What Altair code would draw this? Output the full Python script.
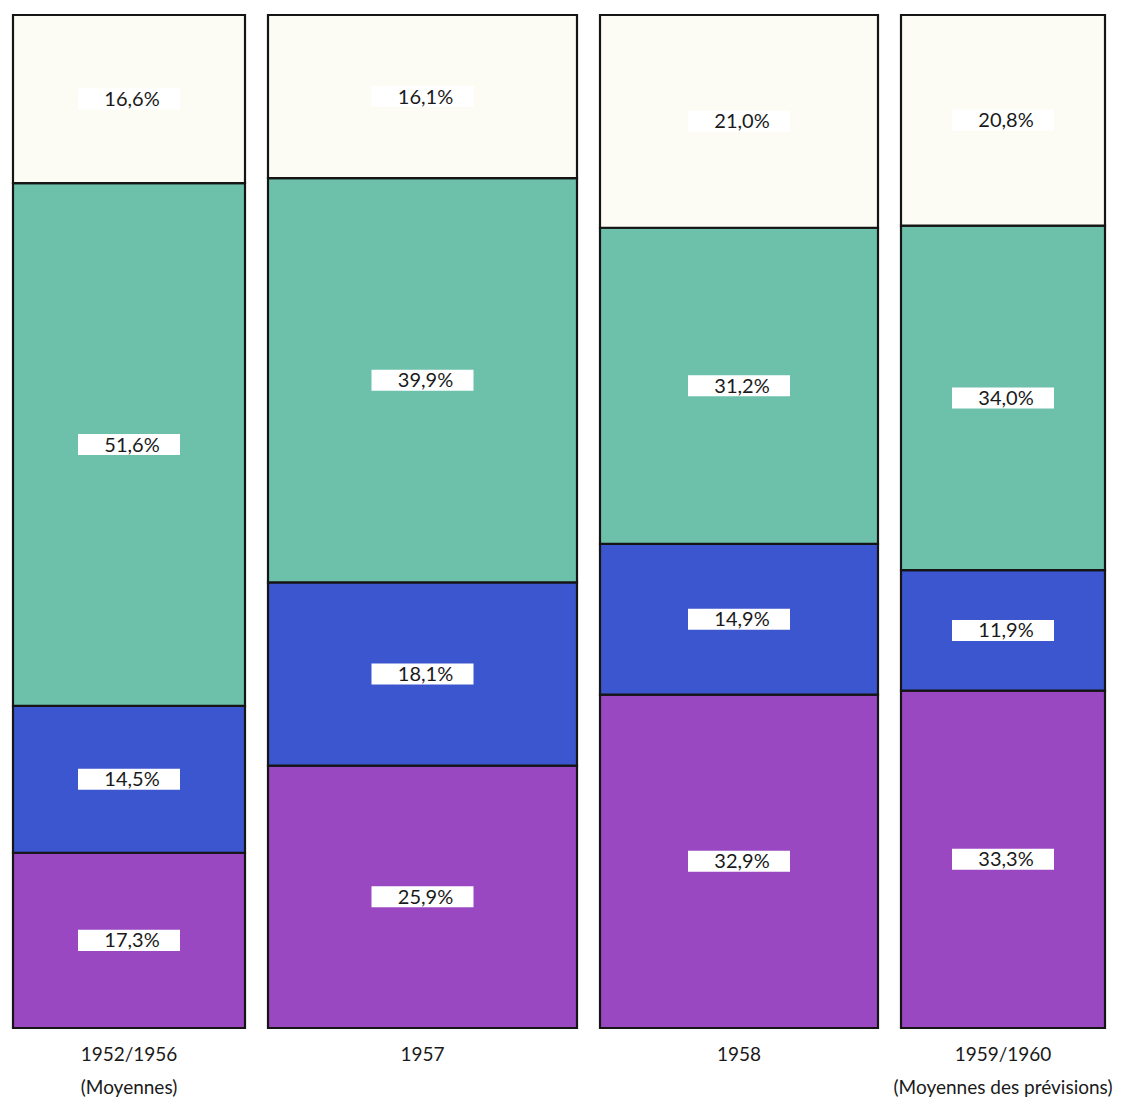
import altair as alt
import pandas as pd

# ---- data ----
periods = ["1952/1956", "1957", "1958", "1959/1960"]
notes = ["(Moyennes)", "", "", "(Moyennes des prévisions)"]
segments = ["violet", "bleu", "vert", "blanc"]          # bottom -> top
violet = [17.3, 25.9, 32.9, 33.3]
bleu = [14.5, 18.1, 14.9, 11.9]
vert = [51.6, 39.9, 31.2, 34.0]
blanc = [16.6, 16.1, 21.0, 20.8]

# ---- styling / layout ----
seg_colors = ["#9a48c2", "#3b56cf", "#6dc1ab", "#fdfcf4"]
panel_widths = [232, 309, 278, 204]
panel_height = 1013
box_path = "M-1,-0.206L1,-0.206L1,0.206L-1,0.206Z"
font = "Lato"
ink = "#1a1a1a"

series = [violet, bleu, vert, blanc]


def panel(i):
    rows = []
    cum = 0.0
    for s, vals in zip(segments, series):
        v = vals[i]
        rows.append({
            "seg": s,
            "lo": cum,
            "hi": cum + v,
            "mid": cum + v / 2,
            "label": f"{v:.1f}".replace(".", ",") + "%",
        })
        cum += v
    df = pd.DataFrame(rows)
    yscale = alt.Scale(domain=[0, 100], nice=False, zero=True)
    base = alt.Chart(df)
    rects = base.mark_rect(stroke="#151515", strokeWidth=2.2).encode(
        y=alt.Y("lo:Q", scale=yscale, axis=None),
        y2="hi:Q",
        color=alt.Color("seg:N", scale=alt.Scale(domain=segments, range=seg_colors), legend=None),
    )
    boxes = base.mark_point(shape=box_path, size=102 ** 2, filled=True, fill="white",
                            opacity=1, strokeWidth=0).encode(
        y=alt.Y("mid:Q", scale=yscale, axis=None),
    )
    texts = base.mark_text(font=font, fontSize=20, color=ink, dx=3, dy=1, baseline="middle").encode(
        y=alt.Y("mid:Q", scale=yscale, axis=None),
        text="label:N",
    )
    tp = dict(text=periods[i], orient="bottom", anchor="middle", font=font, fontSize=19,
              fontWeight="normal", color=ink, offset=17)
    if notes[i]:
        tp.update(subtitle=notes[i], subtitleFont=font, subtitleFontSize=19,
                  subtitleColor=ink, subtitlePadding=14)
    return alt.layer(rects, boxes, texts).properties(
        width=panel_widths[i], height=panel_height, title=alt.TitleParams(**tp)
    )


chart = alt.hconcat(*[panel(i) for i in range(4)], spacing=23, bounds="flush").properties(
    padding={"left": 3, "top": 5, "right": 5, "bottom": 5}
).configure_view(stroke=None).configure(background="white")

chart.save("out.html", embed_options={"renderer": "svg", "actions": False})
